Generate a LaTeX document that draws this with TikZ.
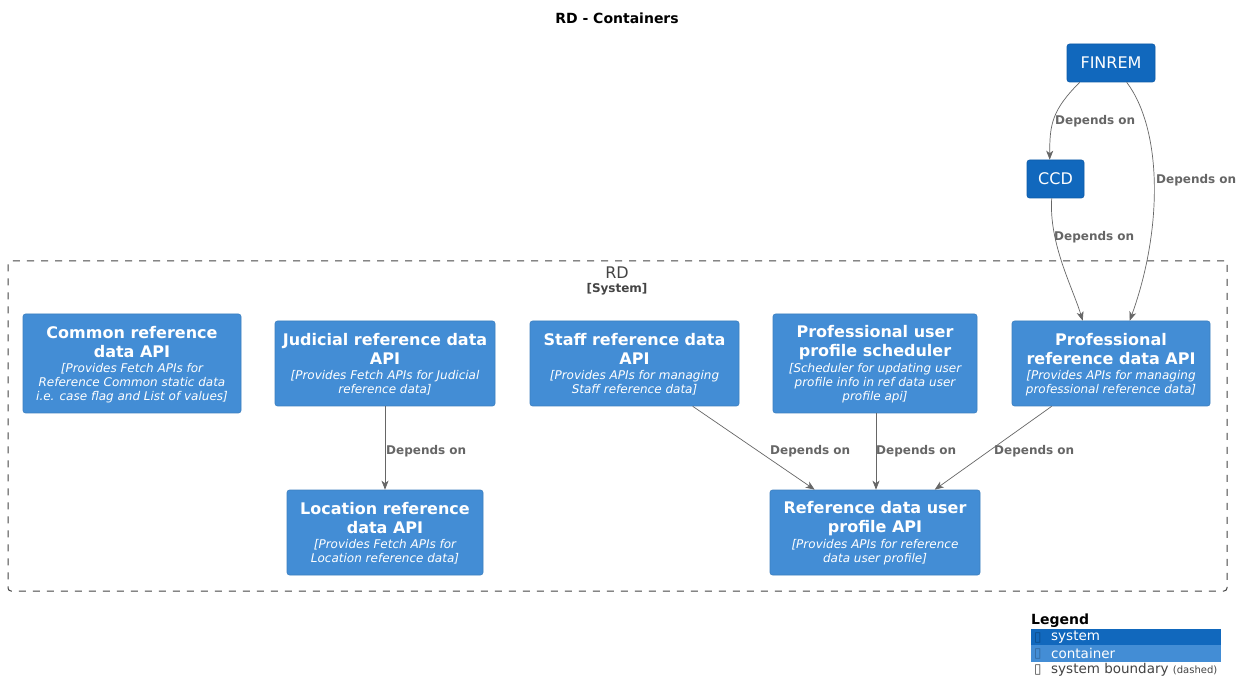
\documentclass[tikz,border=0pt]{standalone}
\usepackage{fontspec}
\setmainfont{DejaVu Sans}
\usetikzlibrary{arrows.meta}
\definecolor{sysc}{HTML}{1168BD}
\definecolor{sysb}{HTML}{0E5BA8}
\definecolor{contc}{HTML}{438DD5}
\definecolor{contb}{HTML}{3C7FC0}
\definecolor{relc}{HTML}{666666}
\definecolor{bndc}{HTML}{444444}
\begin{document}
\begin{tikzpicture}[x=1pt,y=-1pt,
 box/.style={rectangle, rounded corners=2.5pt, inner sep=0pt, line width=0.6pt},
 sysbox/.style={box, fill=sysc, draw=sysb},
 contbox/.style={box, fill=contc, draw=contb},
 ttl/.style={text=white, font=\fontsize{16}{19}\selectfont\bfseries, align=center, inner sep=0pt},
 systtl/.style={text=white, font=\fontsize{16}{19}\selectfont, inner sep=0pt},
 dsc/.style={text=white, font=\fontsize{12}{14}\selectfont\itshape, align=center, inner sep=0pt},
 rel/.style={draw=relc, line width=0.7pt, -{Stealth[length=9pt,width=7pt,inset=2.5pt]}},
 lbl/.style={text=relc, font=\fontsize{12}{14}\selectfont\bfseries, anchor=west, inner sep=0pt},
 lgd/.style={font=\fontsize{13.5}{15}\selectfont, anchor=west, inner sep=0pt},
]
\useasboundingbox[fill=white] (0,0) rectangle (1248,700);

% title
\node[font=\fontsize{14}{16}\selectfont\bfseries, inner sep=0pt] (title) at (617,18) {RD - Containers};

% systems
\node[sysbox, minimum width=88, minimum height=38] (finrem) at (1111,63) {};
\node[systtl] (finremT) at (1111,63) {FINREM};
\node[sysbox, minimum width=57, minimum height=38] (ccd) at (1055.5,179) {};
\node[systtl] (ccdT) at (1055.5,179) {CCD};

% boundary
\node[rectangle, rounded corners=3pt, draw=bndc, dash pattern=on 7pt off 7pt, line width=1pt, minimum width=1219, minimum height=330, inner sep=0pt] (rd) at (617.5,426) {};
\node[text=bndc, font=\fontsize{16}{19}\selectfont, inner sep=0pt] (rdT) at (617,273) {RD};
\node[text=bndc, font=\fontsize{12}{14}\selectfont\bfseries, inner sep=0pt] (rdS) at (617,289) {[System]};

% containers
\node[contbox, minimum width=218, minimum height=99] (common) at (132,363.5) {};
\node[ttl] (commonT) at (132,342.5) {Common reference\\data API};
\node[dsc] (commonD) at (132,383) {[Provides Fetch APIs for\\Reference Common static data\\i.e. case flag and List of values]};

\node[contbox, minimum width=220, minimum height=85] (jud) at (385,363.5) {};
\node[ttl] (judT) at (385,349) {Judicial reference data\\API};
\node[dsc] (judD) at (385,383) {[Provides Fetch APIs for Judicial\\reference data]};

\node[contbox, minimum width=209, minimum height=85] (staff) at (634.5,363.5) {};
\node[ttl] (staffT) at (634.5,349) {Staff reference data\\API};
\node[dsc] (staffD) at (634.5,383) {[Provides APIs for managing\\Staff reference data]};

\node[contbox, minimum width=204, minimum height=99] (sched) at (875,363.5) {};
\node[ttl] (schedT) at (875,342.5) {Professional user\\profile scheduler};
\node[dsc] (schedD) at (875,383) {[Scheduler for updating user\\profile info in ref data user\\profile api]};

\node[contbox, minimum width=198, minimum height=85] (prof) at (1111,363.5) {};
\node[ttl] (profT) at (1111,349.5) {Professional\\reference data API};
\node[dsc] (profD) at (1111,383) {[Provides APIs for managing\\professional reference data]};

\node[contbox, minimum width=196, minimum height=85] (loc) at (385,532.5) {};
\node[ttl] (locT) at (385,518.5) {Location reference\\data API};
\node[dsc] (locD) at (385,552) {[Provides Fetch APIs for\\Location reference data]};

\node[contbox, minimum width=210, minimum height=85] (rdup) at (875,532.5) {};
\node[ttl] (rdupT) at (875,518.5) {Reference data user\\profile API};
\node[dsc] (rdupD) at (875,552) {[Provides APIs for reference\\data user profile]};

% relations
\draw[rel] ([xshift=13pt]finrem.south west) .. controls +(-28,28) and +(0,-35) .. ([xshift=23pt]ccd.north west);
\node[lbl] (l1) at (1055,121) {Depends on};
\draw[rel] ([xshift=60pt]finrem.south west) .. controls +(36,48) and +(33,-91) .. ([xshift=118pt]prof.north west);
\node[lbl] (l2) at (1156,180) {Depends on};
\draw[rel] ([xshift=25pt]ccd.south west) .. controls +(-3,45) and +(-10,-33) .. ([xshift=71pt]prof.north west);
\node[lbl] (l3) at (1054,237) {Depends on};

\draw[rel] (jud.south) -- (loc.north);
\node[lbl] (l4) at (386,451) {Depends on};
\draw[rel] ([xshift=163pt]staff.south west) -- ([xshift=45pt]rdup.north west);
\node[lbl] (l5) at (770,451) {Depends on};
\draw[rel] ([xshift=1pt]sched.south) -- ([xshift=1pt]rdup.north);
\node[lbl] (l6) at (876,451) {Depends on};
\draw[rel] ([xshift=40pt]prof.south west) -- ([xshift=165pt]rdup.north west);
\node[lbl] (l7) at (994,451) {Depends on};

% legend
\node[font=\fontsize{14}{16}\selectfont\bfseries, anchor=west, inner sep=0pt] (lgT) at (1031,621) {Legend};
\fill[sysc] (1031,629) rectangle (1221,645);
\fill[contc] (1031,645) rectangle (1221,661.5);
\node[lgd, text=sysb!80!black] (lgI1) at (1034,637.5) {▯};
\node[lgd, text=white] (lg1) at (1051,637.5) {system};
\node[lgd, text=contb!80!black] (lgI2) at (1034,653.5) {▯};
\node[lgd, text=white] (lg2) at (1051,653.5) {container};
\node[lgd, text=bndc] (lgI3) at (1034,670) {▯};
\node[lgd, text=bndc] (lg3) at (1051,670) {system boundary {\fontsize{10}{11}\selectfont(dashed)}};
\end{tikzpicture}
\end{document}
